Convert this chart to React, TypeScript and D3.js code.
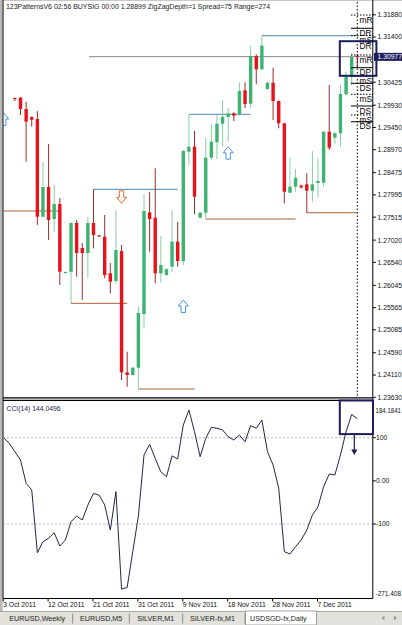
import React from 'react';
import * as d3 from 'd3';

// ---------- data ----------
const opens = [1.30085,1.30092,1.29848,1.29675,1.29632,1.27525,1.28166,1.27475,1.27799,1.26319,1.26339,1.27389,1.26850,1.26742,1.27389,1.27124,1.27094,1.26304,1.26138,1.26785,1.24169,1.24111,1.24268,1.25426,1.27620,1.27503,1.26304,1.26268,1.26447,1.26986,1.26570,1.28927,1.29035,1.27503,1.27611,1.28798,1.29130,1.29531,1.29675,1.29755,1.29734,1.30251,1.29962,1.30991,1.30704,1.30279,1.30415,1.30021,1.29540,1.28043,1.28172,1.28194,1.28224,1.28086,1.28252,1.28258,1.29358,1.29229,1.29324,1.30165,1.30545,1.30995];
const highs = [1.30096,1.30107,1.30005,1.29686,1.29805,1.28705,1.29093,1.28209,1.27928,1.26343,1.27417,1.27454,1.26958,1.27525,1.28116,1.27130,1.27562,1.26526,1.27670,1.26915,1.24613,1.24283,1.25584,1.28015,1.28064,1.28569,1.27109,1.26419,1.27670,1.27417,1.28964,1.29734,1.29374,1.27626,1.29229,1.29518,1.29734,1.30042,1.29876,1.29777,1.30424,1.30424,1.31213,1.31028,1.31429,1.30430,1.30739,1.30031,1.29546,1.28806,1.28554,1.28220,1.28461,1.28942,1.28785,1.29374,1.30366,1.29358,1.30366,1.30653,1.31049,1.31028];
const lows = [1.30021,1.29719,1.28711,1.29466,1.27346,1.27508,1.27022,1.27202,1.26052,1.26311,1.25657,1.26231,1.25728,1.26196,1.26843,1.27098,1.26196,1.25873,1.26089,1.24003,1.23858,1.24100,1.23809,1.25118,1.26770,1.26089,1.26110,1.26246,1.26339,1.26447,1.26483,1.28640,1.27577,1.27491,1.27475,1.28748,1.28770,1.29035,1.29143,1.29589,1.29704,1.29870,1.29863,1.30381,1.30689,1.30269,1.29611,1.29432,1.27814,1.28030,1.28064,1.28133,1.27611,1.27849,1.27935,1.28166,1.28964,1.29087,1.29035,1.30135,1.30366,1.30739];
const closes = [1.30064,1.29848,1.29574,1.29617,1.27525,1.28166,1.27454,1.27799,1.26339,1.26332,1.27389,1.26742,1.26742,1.27389,1.27130,1.27109,1.26268,1.26123,1.26807,1.24169,1.24111,1.24268,1.25448,1.27648,1.27475,1.26304,1.26483,1.26391,1.26986,1.26570,1.28942,1.29035,1.27956,1.27611,1.28798,1.29143,1.29531,1.29675,1.29755,1.29704,1.30236,1.29956,1.30991,1.30704,1.31213,1.30415,1.30021,1.29540,1.28064,1.28172,1.28366,1.28159,1.28086,1.28224,1.28295,1.29358,1.29013,1.29324,1.30172,1.30545,1.30976,1.30977];

const cciStart = -2;
const cciValues = [100,87,67.6,48.3,-5.7,-21,-166.5,-141,-133,-120,-151,-137,-94.7,-81.5,-90.7,-56,-29,-33,-56,-114,-25,-251,-247,-164,-81.5,60,84.7,52,21,9.6,58,50.6,129.4,164,114,56,98.6,124,122,118,102,94.7,106,90.7,128,122,141,67.6,36.7,-17,-164,-169.5,-152.6,-137,-114,-79,-60,-13.6,15.9,13.6,60,114,153.8,144.05];
const cciMax = 184.1841;
const cciMin = -271.408;
const cciTicks = [100, 0, -100];
const cciTickLabels = ['100', '0.00', '-100'];

const priceTicks = [1.3188,1.314,1.30425,1.2993,1.2945,1.2897,1.28475,1.27995,1.27515,1.2702,1.2654,1.26045,1.25565,1.25085,1.2459,1.2411,1.2363];
const lastPrice = 1.30977;

const dateLabels = ['3 Oct 2011','12 Oct 2011','21 Oct 2011','31 Oct 2011','9 Nov 2011','18 Nov 2011','28 Nov 2011','7 Dec 2011'];
const dateIndex = [-2, 6, 14, 22, 30, 38, 46, 54];

const blueFrom = [14, 31, 44];
const blueTo = [29, 42, 61];
const bluePrice = [1.28116, 1.29734, 1.31429];

const brownFrom = [-2.3, 10, 22, 34, 52];
const brownTo = [8, 20, 32, 50, 61];
const brownPrice = [1.27648, 1.25657, 1.23809, 1.27475, 1.27611];

const upArrowIdx = [-2, 30, 38];
const upArrowPrice = [1.29762, 1.25728, 1.29035];
const downArrowIdx = [19];
const downArrowPrice = [1.27814];

const levelLabels = ['mR','DR','mS','DR','mR','DP','mS','DS','mS','DS','mS','DS'];
const levelPrices = [1.31875,1.31589,1.31433,1.31304,1.31013,1.30739,1.30549,1.30402,1.30165,1.29913,1.29719,1.29574];
const levelDotted = [true,false,true,false,true,false,true,false,true,false,true,false];

const tabLabels = ['EURUSD,Weekly','EURUSD,M5','SILVER,M1','SILVER-fx,M1','USDSGD-fx,Daily'];

const title = '123PatternsV6  02:56  BUYSIG  00:00  1.28899  ZigZagDepth=1  Spread=75  Range=274';
const cciTitle = 'CCI(14) 144.0496';

// ---------- layout ----------
const LEFT = 3;
const AXIS_X = 372.8;
const P_TOP = 2;
const P_BOT = 397.8;
const C_TOP = 400.3;
const C_BOT = 598.5;
const FONT = "'Liberation Sans', Arial, sans-serif";

const GREEN = '#3cb371';
const GREEN_WICK = '#86cda2';
const RED = '#e8121a';
const RED_WICK = '#9c2b2b';
const BLUE_LINE = '#4f86b0';
const BROWN_LINE = '#a5603c';
const ARROW_BLUE = '#4d95dc';
const ARROW_ORANGE = '#e8702a';
const NAVY = '#1c1c5e';

export default function App() {
  const xS = d3.scaleLinear().domain([0, 61]).range([14.9, 357.3]);
  const yP = d3.scaleLinear().domain([1.2363, 1.3188]).range([397.3, 14.8]);
  const yC = d3.scaleLinear().domain([cciMin, cciMax]).range([598, 401.4]);

  const cciLine = d3
    .line<number>()
    .x((_, i) => xS(i + cciStart))
    .y((d) => yC(d));

  const bw = 3.4;

  const upArrow = (cx: number, ty: number) =>
    `M${cx},${ty} L${cx + 5},${ty + 6} L${cx + 2.2},${ty + 6} L${cx + 2.2},${ty + 12.5} L${cx - 2.2},${ty + 12.5} L${cx - 2.2},${ty + 6} L${cx - 5},${ty + 6} Z`;
  const downArrow = (cx: number, by: number) =>
    `M${cx},${by} L${cx + 5},${by - 6} L${cx + 2.2},${by - 6} L${cx + 2.2},${by - 12.5} L${cx - 2.2},${by - 12.5} L${cx - 2.2},${by - 6} L${cx - 5},${by - 6} Z`;

  const tabX = [9.3, 80, 137.3, 190, 250];
  const tabSep = [72.7, 129.3, 182.7, 245];

  return (
    <svg
      width={402}
      height={625}
      style={{ position: 'absolute', left: 0, top: 0, background: '#fff' }}
      fontFamily={FONT}
    >
      <defs>
        <clipPath id="pclip">
          <rect x={LEFT + 0.5} y={P_TOP} width={AXIS_X - LEFT - 1} height={P_BOT - P_TOP} />
        </clipPath>
        <clipPath id="cclip">
          <rect x={LEFT + 0.5} y={C_TOP} width={AXIS_X - LEFT - 1} height={C_BOT - C_TOP} />
        </clipPath>
      </defs>
      <rect x={0} y={0} width={402} height={625} fill="#fff" />

      {/* window left border */}
      <rect x={0} y={0} width={2.6} height={611} fill="#b9b9b9" />
      <line x1={0} x2={402} y1={0.5} y2={0.5} stroke="#c8c8c8" />

      {/* title */}
      <text x={6} y={9.3} fontSize={7} fill="#1a1a1a" textLength={264} lengthAdjust="spacingAndGlyphs">
        {title}
      </text>

      {/* price panel */}
      <g clipPath="url(#pclip)">
        <line x1={89} x2={AXIS_X} y1={yP(lastPrice)} y2={yP(lastPrice)} stroke="#8a8a8a" strokeWidth={1} />

        {bluePrice.map((p, i) => (
          <line key={'b' + i} x1={xS(blueFrom[i])} x2={xS(blueTo[i])} y1={yP(p)} y2={yP(p)} stroke={BLUE_LINE} strokeWidth={1} />
        ))}
        {brownPrice.map((p, i) => (
          <line key={'r' + i} x1={xS(brownFrom[i])} x2={xS(brownTo[i])} y1={yP(p)} y2={yP(p)} stroke={BROWN_LINE} strokeWidth={1} />
        ))}

        {opens.map((o, i) => {
          const c = closes[i];
          const up = c >= o;
          const x = xS(i);
          const yTop = yP(Math.max(o, c));
          const yBot = yP(Math.min(o, c));
          return (
            <g key={'c' + i}>
              <line x1={x} x2={x} y1={yP(highs[i])} y2={yP(lows[i])} stroke={up ? GREEN_WICK : RED_WICK} strokeWidth={1} />
              <rect x={x - bw / 2} y={yTop} width={bw} height={Math.max(1.2, yBot - yTop)} fill={up ? GREEN : RED} />
            </g>
          );
        })}

        {upArrowIdx.map((ix, i) => (
          <path key={'u' + i} d={upArrow(xS(ix), yP(upArrowPrice[i]))} fill="#fff" stroke={ARROW_BLUE} strokeWidth={1} />
        ))}
        {downArrowIdx.map((ix, i) => (
          <path key={'d' + i} d={downArrow(xS(ix), yP(downArrowPrice[i]))} fill="#fff" stroke={ARROW_ORANGE} strokeWidth={1} />
        ))}

        <line x1={xS(61)} x2={xS(61)} y1={P_TOP} y2={P_BOT} stroke="#000" strokeWidth={1} strokeDasharray="1.5,2" />
      </g>

      {/* right-side pivot levels */}
      {levelPrices.map((p, i) => (
        <g key={'lv' + i}>
          <line
            x1={351}
            x2={AXIS_X}
            y1={yP(p)}
            y2={yP(p)}
            stroke="#000"
            strokeWidth={1}
            strokeDasharray={levelDotted[i] ? '1.5,1.5' : undefined}
          />
          <text x={359.5} y={yP(p) + 7.6} fontSize={8.4} fill="#000">
            {levelLabels[i]}
          </text>
        </g>
      ))}

      <rect x={339.8} y={41.2} width={36.6} height={34.6} fill="none" stroke={NAVY} strokeWidth={2} />

      {/* frames */}
      <line x1={LEFT} x2={LEFT} y1={0} y2={C_BOT} stroke="#000" strokeWidth={1} />
      <line x1={AXIS_X} x2={AXIS_X} y1={0} y2={C_BOT} stroke="#000" strokeWidth={1} />
      <line x1={LEFT} x2={AXIS_X} y1={P_BOT} y2={P_BOT} stroke="#000" strokeWidth={1.2} />
      <line x1={LEFT} x2={AXIS_X} y1={C_TOP} y2={C_TOP} stroke="#000" strokeWidth={1.2} />
      <line x1={LEFT} x2={AXIS_X} y1={C_BOT} y2={C_BOT} stroke="#000" strokeWidth={1.2} />

      {/* price axis */}
      {priceTicks.map((t, i) => (
        <g key={'pt' + i}>
          <line x1={AXIS_X} x2={AXIS_X + 3} y1={yP(t)} y2={yP(t)} stroke="#000" />
          <text x={377.5} y={yP(t) + 2.4} fontSize={6.8} fill="#111">
            {t.toFixed(5)}
          </text>
        </g>
      ))}
      <rect x={374} y={yP(lastPrice) - 3.8} width={28} height={8} fill={NAVY} />
      <text x={377.5} y={yP(lastPrice) + 2.4} fontSize={6.8} fill="#fff">
        {lastPrice.toFixed(5)}
      </text>

      {/* CCI panel */}
      <text x={6.5} y={410.5} fontSize={6.8} fill="#1a1a4a">
        {cciTitle}
      </text>
      <g clipPath="url(#cclip)">
        {cciTicks
          .filter((t) => t !== 0)
          .map((t, i) => (
            <line key={'cl' + i} x1={LEFT} x2={AXIS_X} y1={yC(t)} y2={yC(t)} stroke="#a8a8a8" strokeDasharray="2,2" strokeWidth={0.8} />
          ))}
        <path d={cciLine(cciValues) || ''} fill="none" stroke="#24244a" strokeWidth={1} />
      </g>
      {cciTicks.map((t, i) => (
        <g key={'ct' + i}>
          <line x1={AXIS_X} x2={AXIS_X + 3} y1={yC(t)} y2={yC(t)} stroke="#000" />
          <text x={376} y={yC(t) + 2.4} fontSize={6.8} fill="#111">
            {cciTickLabels[i]}
          </text>
        </g>
      ))}
      <text x={375.5} y={yC(cciMax) + 11.5} fontSize={6.5} fill="#111" textLength={25.5} lengthAdjust="spacingAndGlyphs">
        {cciMax.toFixed(4)}
      </text>
      <text x={375.5} y={yC(cciMin) - 2} fontSize={6.5} fill="#111" textLength={25.5} lengthAdjust="spacingAndGlyphs">
        {cciMin.toFixed(3)}
      </text>

      {/* CCI annotation */}
      <rect x={339.8} y={400.5} width={33.2} height={33.6} fill="none" stroke={NAVY} strokeWidth={2} />
      <line x1={354.3} x2={354.3} y1={434} y2={452} stroke={NAVY} strokeWidth={1.2} />
      <path d="M351.3,449.5 L357.3,449.5 L354.3,455 Z" fill={NAVY} />

      {/* date axis */}
      {dateLabels.map((lab, i) => (
        <g key={'dt' + i}>
          <line x1={xS(dateIndex[i]) - 0.5} x2={xS(dateIndex[i]) - 0.5} y1={C_BOT} y2={C_BOT + 3} stroke="#000" />
          <text x={xS(dateIndex[i]) - 0.5} y={607.3} fontSize={6.8} fill="#111">
            {lab}
          </text>
        </g>
      ))}

      {/* tabs */}
      <rect x={0} y={611} width={402} height={14} fill="#e3e1dc" />
      <line x1={0} x2={402} y1={611.5} y2={611.5} stroke="#a9a9a9" />
      <rect x={245.5} y={611} width={71} height={14} fill="#fff" stroke="#8c8c8c" strokeWidth={0.8} />
      {tabSep.map((s, i) => (
        <line key={'ts' + i} x1={s} x2={s} y1={613.5} y2={623.5} stroke="#8a8a8a" />
      ))}
      {tabLabels.map((t, i) => (
        <text key={'tl' + i} x={tabX[i]} y={621} fontSize={7.2} fill="#222">
          {t}
        </text>
      ))}
      <path d="M384.5,615.5 L381.5,618 L384.5,620.5 Z" fill="#9a9a9a" />
      <path d="M394,615.5 L397,618 L394,620.5 Z" fill="#9a9a9a" />
    </svg>
  );
}
